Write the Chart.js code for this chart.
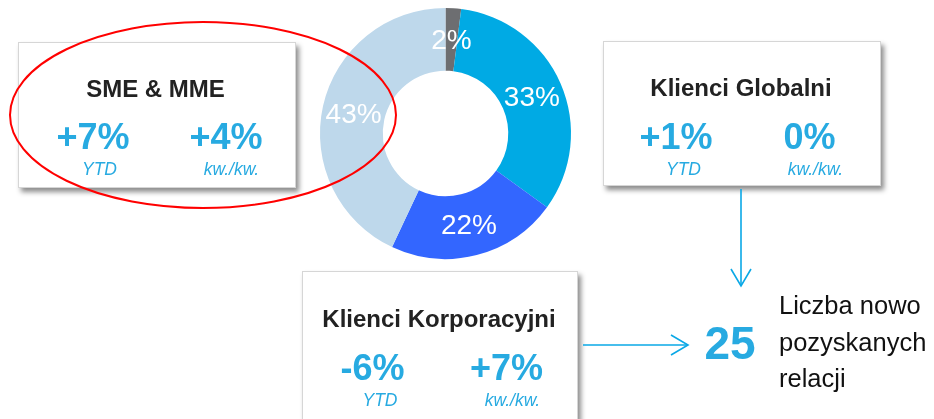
<!DOCTYPE html>
<html>
<head>
<meta charset="utf-8">
<script src="https://cdn.jsdelivr.net/npm/chart.js@4"></script>
<style>
    body { margin: 0; background: #fff; font-family: "Liberation Sans", Arial, sans-serif; }
    #page { position: relative; width: 934px; height: 419px; overflow: hidden; }
    #chart-box { position: absolute; left: 0; top: 0; width: 934px; height: 419px; }
    .card {
        position: absolute; background: #fff; border: 1px solid #d6d6d6;
        box-shadow: 3px 4px 5px rgba(0, 0, 0, 0.45);
    }
    .t { position: absolute; white-space: nowrap; line-height: 1; transform: translateX(-50%); }
    .title { font-size: 24px; font-weight: bold; color: #222; }
    .big { font-size: 36px; font-weight: bold; color: #27aae1; }
    .small { font-size: 17.5px; font-style: italic; color: #27aae1; }
    #overlay { position: absolute; left: 0; top: 0; pointer-events: none; }
</style>
</head>
<body>
<div id="page">
    <div class="card" style="left:18px; top:42px; width:276px; height:144px;"></div>
    <div class="card" style="left:603px; top:41px; width:276px; height:143px;"></div>
    <div class="card" style="left:302px; top:271px; width:274px; height:160px;"></div>

    <div id="chart-box"><canvas id="donut"></canvas></div>

    <div id="texts"></div>

    <svg id="overlay" width="934" height="419">
        <ellipse cx="203" cy="115" rx="193" ry="93" fill="none" stroke="#ff0000" stroke-width="2"/>
        <g stroke="#0aa8e6" stroke-width="1.6" fill="none">
            <line x1="741" y1="189" x2="741" y2="286"/>
            <polyline points="731,269 741,286 751,269"/>
            <line x1="583" y1="345" x2="687" y2="345"/>
            <polyline points="671,335 688,345 671,355"/>
        </g>
    </svg>
</div>

<script>
const segmentLabels = ["Inne", "Klienci Globalni", "Klienci Korporacyjni", "SME & MME"];
const segmentValues = [2, 33, 22, 43];
const segmentColors = ["#6d6e71", "#00aae4", "#3366ff", "#bed8eb"];

const cardTitles = ["SME & MME", "Klienci Globalni", "Klienci Korporacyjni"];
const ytdValues = ["+7%", "+1%", "-6%"];
const qoqValues = ["+4%", "0%", "+7%"];
const newRelations = 25;
const newRelationsText = ["Liczba nowo", "pozyskanych", "relacji"];

// card text anchors: title centre/baseline, two big values, two small captions
const cardLayout = [
    {titleX: 155.5, titleY: 97, ytdX: 93, qoqX: 226, bigY: 149, ytdCapX: 99.5, qoqCapX: 231.5, capY: 176},
    {titleX: 741, titleY: 96, ytdX: 676, qoqX: 809.5, bigY: 149, ytdCapX: 683.5, qoqCapX: 815.5, capY: 176},
    {titleX: 439, titleY: 327, ytdX: 372.5, qoqX: 506.5, bigY: 380, ytdCapX: 380, qoqCapX: 512.5, capY: 407},
];

function addText(text, cls, x, baseline, size, extra) {
    const el = document.createElement("div");
    el.className = "t " + cls;
    el.textContent = text;
    el.style.left = x + "px";
    el.style.top = (baseline - 0.8465 * size) + "px";
    if (extra) Object.assign(el.style, extra);
    document.getElementById("texts").appendChild(el);
}

cardLayout.forEach((pos, i) => {
    addText(cardTitles[i], "title", pos.titleX, pos.titleY, 24);
    addText(ytdValues[i], "big", pos.ytdX, pos.bigY, 36);
    addText(qoqValues[i], "big", pos.qoqX, pos.bigY, 36);
    addText("YTD", "small", pos.ytdCapX, pos.capY, 17.5);
    addText("kw./kw.", "small", pos.qoqCapX, pos.capY, 17.5);
});

addText(String(newRelations), "big", 730, 359, 46, {fontSize: "46px"});
newRelationsText.forEach((line, i) => {
    addText(line, "", 779, [315, 352, 388][i], 25.5,
        {fontSize: "25.5px", color: "#111", transform: "none"});
});

const percentLabels = {
    id: "percentLabels",
    afterDatasetsDraw(chart) {
        const ctx = chart.ctx;
        const meta = chart.getDatasetMeta(0);
        ctx.save();
        ctx.fillStyle = "#fff";
        ctx.font = "28px 'Liberation Sans', Arial, sans-serif";
        ctx.textAlign = "center";
        ctx.textBaseline = "middle";
        meta.data.forEach((arc, i) => {
            const p = arc.tooltipPosition();
            ctx.fillText(segmentValues[i] + "%", p.x, p.y + 2);
        });
        ctx.restore();
    }
};

new Chart(document.getElementById("donut"), {
    type: "doughnut",
    data: {
        labels: segmentLabels,
        datasets: [{
            data: segmentValues,
            backgroundColor: segmentColors,
            borderWidth: 0,
        }]
    },
    options: {
        responsive: true,
        maintainAspectRatio: false,
        animation: false,
        cutout: "50%",
        layout: {padding: {left: 320, right: 363, top: 8, bottom: 160}},
        plugins: {
            legend: {display: false},
            tooltip: {enabled: false},
        }
    },
    plugins: [percentLabels]
});
</script>
</body>
</html>
